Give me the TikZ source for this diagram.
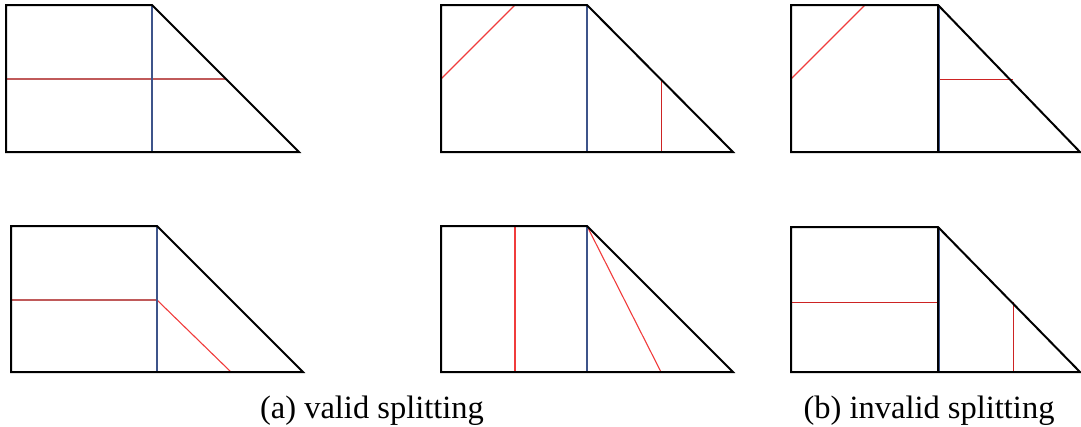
\documentclass[tikz,border=0pt]{standalone}
\usepackage{fontspec}
\setmainfont{Liberation Serif}
\definecolor{divblue}{RGB}{62,84,138}
\definecolor{cutred}{RGB}{240,60,60}
\definecolor{mutedred}{RGB}{192,90,90}
\definecolor{darkred}{RGB}{205,35,35}
\tikzset{
  outline/.style={draw=black, line width=2pt, line join=miter},
  divider/.style={draw=divblue, line width=1.5pt},
  blackdiv/.style={draw=black, line width=1.6pt},
  cut/.style={draw=cutred, line width=1.1pt},
  caption/.style={font=\fontsize{32.5}{38}\selectfont, anchor=base, inner sep=0pt}
}
\begin{document}
\begin{tikzpicture}[x=1pt,y=-1pt]
\useasboundingbox (0,0) rectangle (1081,426);
% ---- (1) top-left
\draw[cut, draw=mutedred] (6,79) -- (226,79);
\draw[divider] (152,5) -- (152,152);
\draw[outline] (299,152) -- (6,152) -- (6,5) -- (152,5) -- cycle;
% ---- (2) top-middle
\draw[cut] (441,79) -- (515,5);
\draw[cut, draw=darkred, line width=0.8pt] (661,79) -- (661,152);
\draw[divider] (587,5) -- (587,152);
\draw[outline] (733,152) -- (441,152) -- (441,5) -- (587,5) -- cycle;
% ---- (3) top-right
\draw[cut] (791,79) -- (865,5);
\draw[cut, draw=darkred, line width=0.8pt] (938,79) -- (1013,79);
\draw[draw=divblue, line width=0.8pt] (939.2,5) -- (939.2,152);
\draw[blackdiv] (938,5) -- (938,152);
\draw[outline] (1080,152) -- (791,152) -- (791,5) -- (938,5) -- cycle;
% ---- (4) bottom-left
\draw[cut, draw=mutedred] (11,300) -- (157,300);
\draw[cut] (157,300) -- (231,372);
\draw[divider] (157,226) -- (157,372);
\draw[outline] (303,372) -- (11,372) -- (11,226) -- (157,226) -- cycle;
% ---- (5) bottom-middle
\draw[cut] (515,226) -- (515,372);
\draw[cut] (587,226) -- (661,372);
\draw[divider] (587,226) -- (587,372);
\draw[outline] (733,372) -- (441,372) -- (441,226) -- (587,226) -- cycle;
% ---- (6) bottom-right
\draw[cut, draw=darkred, line width=0.8pt] (791,302) -- (938,302);
\draw[cut, draw=darkred, line width=0.8pt] (1013,302) -- (1013,372);
\draw[draw=divblue, line width=0.8pt] (939.2,227) -- (939.2,372);
\draw[blackdiv] (938,227) -- (938,372);
\draw[outline] (1080,372) -- (791,372) -- (791,227) -- (938,227) -- cycle;
% ---- captions
\node[caption] (capa) at (372,418) {(a) valid splitting};
\node[caption] (capb) at (929,418) {(b) invalid splitting};
\end{tikzpicture}
\end{document}
